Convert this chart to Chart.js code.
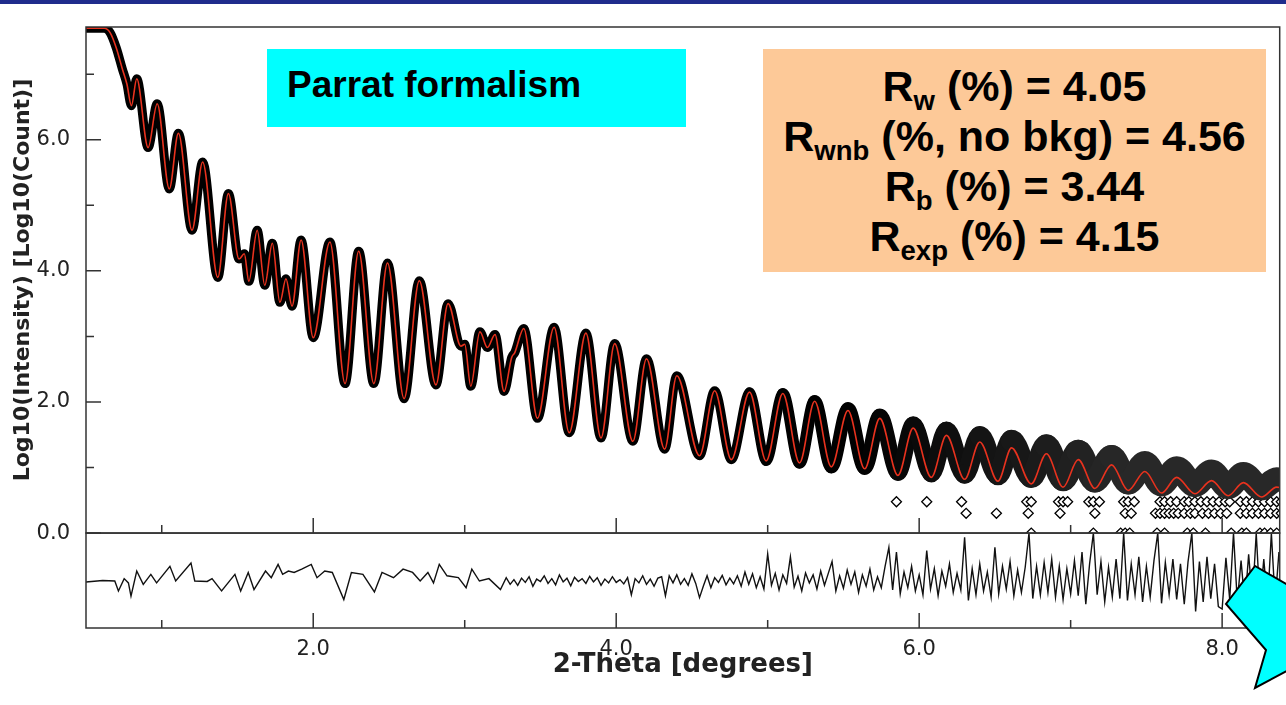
<!DOCTYPE html>
<html>
<head>
<meta charset="utf-8">
<script src="https://cdn.jsdelivr.net/npm/chart.js@4.4.1/dist/chart.umd.min.js"></script>
<style>
    body { margin: 0; background: #fff; overflow: hidden; }
    .page { position: relative; width: 1286px; height: 705px; overflow: hidden; }
    #chart { position: absolute; left: 0; top: 0; }
    .top-bar { position: absolute; left: 0; top: 0; width: 1286px; height: 4px; background: #202c8c; }
    .method-box {
        position: absolute; left: 267px; top: 49px; width: 419px; height: 78px;
        background: #00ffff; box-sizing: border-box; padding-left: 20px;
        font: bold 37px "Liberation Sans", Arial, sans-serif; line-height: 72px; color: #000;
    }
    .stats-box {
        position: absolute; left: 763px; top: 49px; width: 503px; height: 223px;
        background: #fdc998; box-sizing: border-box; padding-top: 12px;
        font: bold 43px "Liberation Sans", Arial, sans-serif; line-height: 50px;
        text-align: center; color: #000;
    }
    .stats-box sub { font-size: 0.64em; vertical-align: -0.32em; line-height: 0; }
    .arrow { position: absolute; left: 0; top: 0; }
</style>
</head>
<body>
<div class="page">
    <canvas id="chart" width="1286" height="705"></canvas>
    <div class="top-bar"></div>
    <div class="method-box">Parrat formalism</div>
    <div class="stats-box">
        <div>R<sub>w</sub> (%) = 4.05</div>
        <div>R<sub>wnb</sub> (%, no bkg) = 4.56</div>
        <div>R<sub>b</sub> (%) = 3.44</div>
        <div>R<sub>exp</sub> (%) = 4.15</div>
    </div>
    <svg class="arrow" width="1286" height="705">
        <polygon points="1255,566 1226,604 1266,650 1255,688 1335,645 1312,578 1300,592"
                 fill="#00ffff" stroke="#000" stroke-width="2" stroke-linejoin="miter"/>
    </svg>
</div>

<script>
// fitted curve, peaks and valleys (2-theta, log10 counts)
const twoTheta = [
    0.50, 0.62, 0.66, 0.70, 0.74, 0.77, 0.80, 0.835, 0.91, 0.97,
    1.05, 1.11, 1.20, 1.27, 1.37, 1.44, 1.51, 1.545, 1.575, 1.63,
    1.68, 1.73, 1.78, 1.82, 1.86, 1.92, 2.00, 2.11, 2.21, 2.30,
    2.40, 2.49, 2.60, 2.70, 2.81, 2.89, 2.975, 3.00, 3.04, 3.10,
    3.15, 3.20, 3.26, 3.31, 3.33, 3.39, 3.48, 3.59, 3.69, 3.80,
    3.90, 3.99, 4.11, 4.20, 4.32, 4.40, 4.55, 4.65, 4.76, 4.88,
    4.99, 5.10, 5.21, 5.31, 5.42, 5.53, 5.64, 5.74, 5.86, 5.96,
    6.08, 6.18, 6.30, 6.40, 6.52, 6.61, 6.74, 6.84, 6.95, 7.05,
    7.16, 7.27, 7.38, 7.49, 7.60, 7.70, 7.82, 7.93, 8.04, 8.14,
    8.26, 8.36, 8.42
];
const fitLog = [
    7.70, 7.70, 7.63, 7.40, 7.08, 6.85, 6.52, 6.93, 5.88, 6.55,
    5.25, 6.10, 4.62, 5.66, 3.90, 5.18, 4.18, 4.26, 3.84, 4.62,
    3.78, 4.42, 3.52, 3.88, 3.46, 4.47, 2.98, 4.44, 2.28, 4.30,
    2.28, 4.12, 2.05, 3.85, 2.26, 3.50, 2.85, 2.88, 2.24, 3.07,
    2.83, 3.03, 2.16, 2.68, 2.75, 3.12, 1.75, 3.14, 1.53, 3.05,
    1.45, 2.89, 1.40, 2.66, 1.28, 2.40, 1.18, 2.17, 1.12, 2.15,
    1.10, 2.13, 1.07, 2.01, 1.01, 1.87, 0.98, 1.75, 0.88, 1.60,
    0.85, 1.49, 0.82, 1.39, 0.79, 1.30, 0.75, 1.21, 0.70, 1.12,
    0.68, 1.04, 0.65, 0.94, 0.61, 0.85, 0.60, 0.80, 0.57, 0.77,
    0.55, 0.70, 0.68
];
// centre of the observed scatter, same 2-theta points; it sits above the fit at high angle
const obsLog = [
    7.70, 7.70, 7.63, 7.40, 7.08, 6.85, 6.52, 6.93, 5.88, 6.55,
    5.25, 6.10, 4.62, 5.66, 3.90, 5.18, 4.18, 4.26, 3.84, 4.62,
    3.78, 4.42, 3.52, 3.88, 3.46, 4.47, 2.98, 4.44, 2.28, 4.30,
    2.28, 4.12, 2.05, 3.85, 2.26, 3.50, 2.85, 2.88, 2.24, 3.07,
    2.83, 3.03, 2.16, 2.68, 2.75, 3.12, 1.75, 3.14, 1.53, 3.05,
    1.45, 2.89, 1.40, 2.66, 1.28, 2.40, 1.18, 2.17, 1.12, 2.15,
    1.10, 2.13, 1.07, 2.01, 1.01, 1.89, 1.00, 1.78, 0.92, 1.65,
    0.91, 1.56, 0.90, 1.48, 0.89, 1.41, 0.86, 1.33, 0.82, 1.24,
    0.80, 1.16, 0.77, 1.07, 0.74, 0.99, 0.73, 0.94, 0.70, 0.90,
    0.68, 0.82, 0.80
];

// isolated low-count observations at high angle (3, 2 and 1 counts)
const lowX3 = [5.85, 6.05, 6.28, 6.71, 6.74, 6.92, 6.95, 6.98, 7.12, 7.15, 7.19,
    7.35, 7.38, 7.42, 7.59, 7.62, 7.66, 7.70, 7.75, 7.78, 7.82, 7.86, 7.90, 7.94,
    7.98, 8.02, 8.05, 8.12, 8.16, 8.20, 8.24, 8.28, 8.32, 8.36, 8.39];
const lowX2 = [6.31, 6.51, 6.72, 6.93, 7.16, 7.36, 7.40, 7.56, 7.59, 7.62, 7.65,
    7.68, 7.71, 7.75, 7.79, 7.82, 7.87, 7.91, 7.95, 7.99, 8.03, 8.12, 8.16, 8.20,
    8.24, 8.28, 8.32, 8.36, 8.39];
const lowX1 = [6.74, 7.15, 7.33, 7.36, 7.39, 7.57, 7.62, 7.77, 7.81, 7.89, 8.06,
    8.13, 8.16, 8.25, 8.28, 8.32, 8.36];
const lowLevels = [0.477, 0.301, 0.0];

// residual (obs - calc), smooth part read point by point
const resFeatX = [0.50, 0.61, 0.69, 0.714, 0.752, 0.78, 0.797, 0.835, 0.878, 0.928,
    0.966, 1.054, 1.092, 1.193, 1.218, 1.30, 1.332, 1.395, 1.483, 1.521,
    1.571, 1.609, 1.685, 1.723, 1.768, 1.798, 1.836, 1.874, 1.924, 1.987,
    2.025, 2.076, 2.126, 2.202, 2.252, 2.328, 2.404, 2.454, 2.530, 2.593,
    2.656, 2.706, 2.757, 2.794, 2.832, 2.883, 2.958, 3.009, 3.047, 3.097,
    3.160, 3.236, 3.274];
const resFeatY = [-0.03, 0.0, -0.01, -0.22, 0.04, -0.05, -0.33, 0.20, -0.08, 0.13,
    -0.05, 0.30, -0.01, 0.37, -0.01, -0.02, 0.04, -0.22, 0.13, -0.22,
    0.17, -0.19, 0.20, 0.06, 0.34, 0.13, 0.20, 0.17, 0.24, 0.34,
    0.06, 0.20, 0.17, -0.40, 0.17, 0.13, -0.24, 0.17, 0.06, 0.24,
    0.17, -0.01, 0.17, -0.05, 0.34, 0.10, 0.06, -0.15, 0.24, -0.01,
    0.04, -0.19, 0.06];
// noisy part, constant step from 3.30
const resNoiseStart = 3.30;
const resNoiseStep = 0.025;
const resNoise = [
    -0.08, 0.02, -0.10, 0.05, -0.04, 0.08, -0.12, 0.03, -0.02, 0.10, -0.06, 0.04, -0.09, 0.12, -0.03, 0.05, -0.11, 0.07, -0.02, 0.04,
    -0.06, 0.09, -0.03, 0.06, -0.10, 0.03, -0.05, 0.08, -0.04, 0.02, -0.07, 0.06, -0.30, 0.04, -0.05, 0.10, -0.08, 0.03, -0.12, 0.05,
    0.08, -0.32, 0.10, -0.05, 0.12, -0.08, 0.04, -0.10, 0.14, -0.06, -0.36, -0.12, 0.10, -0.15, 0.06, -0.04, 0.11, -0.09, 0.05, -0.07,
    0.10, -0.12, 0.18, -0.08, 0.14, -0.15, 0.08, -0.18, 0.56, -0.10, 0.15, -0.20, 0.12, -0.06, 0.50, -0.14, 0.09, -0.22, 0.16, -0.05,
    0.12, -0.18, 0.20, -0.10, 0.15, 0.40, -0.22, 0.10, -0.16, 0.22, -0.08, 0.18, -0.25, 0.12, -0.12, 0.24, -0.20, 0.08, -0.15, 0.30,
    0.70, -0.20, 0.60, -0.28, 0.18, -0.15, 0.30, -0.22, 0.12, -0.30, 0.63, -0.18, 0.25, -0.32, 0.20, -0.12, 0.35, -0.25, 0.15, -0.20,
    0.91, -0.42, 0.25, -0.30, 0.35, -0.22, 0.18, -0.35, 0.70, -0.28, 0.30, -0.18, 0.40, -0.32, 0.22, -0.25, 0.28, 1.00, -0.38, 0.30,
    -0.30, 0.38, -0.25, 0.45, -0.35, 0.30, -0.40, 0.25, -0.28, 0.42, -0.32, 0.60, -0.50, 0.35, 1.00, -0.30, 0.40, -0.45, 0.28, -0.35,
    0.45, -0.38, 1.00, -0.42, 0.35, -0.30, 0.50, -0.45, 0.30, -0.35, 0.42, 1.00, -0.48, 0.38, -0.30, 0.45, -0.40, 0.35, -0.50, 0.40,
    1.00, -0.65, 0.40, -0.45, 0.50, -0.38, 0.35, -0.55, -0.60, 0.48, -0.40, 1.00, -0.45, 0.42, -0.50, 0.55, -0.42, 1.00, -0.48, 0.45,
    -0.50, 1.00, -0.45, 0.60, -0.40
];

const xMajorTicks = [2, 4, 6, 8];
const xMinorTicks = [1, 3, 5, 7];
const yMajorTicks = [0, 2, 4, 6];
const yMinorTicks = [1, 3, 5, 7];

const fitPoints = twoTheta.map((x, i) => ({x: x, y: fitLog[i]}));
const obsPoints = twoTheta.map((x, i) => ({x: x, y: obsLog[i]}));
let lowPoints = [];
[lowX3, lowX2, lowX1].forEach((xs, k) => {
    xs.forEach(x => lowPoints.push({x: x, y: lowLevels[k]}));
});
const residualPoints = resFeatX.map((x, i) => ({x: x, y: resFeatY[i]}))
    .concat(resNoise.map((v, i) => ({x: resNoiseStart + i * resNoiseStep, y: v})));

// observed scatter gets wider and greyer at high angle
function bandWidth(x) {
    return x < 4.8 ? 9 : Math.min(9 + (x - 4.8) * 7, 24);
}
function bandColor(x) {
    const g = Math.round(Math.min(Math.max((x - 5.5) * 22, 0), 40));
    return 'rgb(' + g + ',' + g + ',' + g + ')';
}

// keep each dataset inside its own panel
const panelClip = {
    id: 'panelClip',
    beforeDatasetDraw(chart, args) {
        const s = args.meta.yScale;
        const a = chart.chartArea;
        chart.ctx.save();
        chart.ctx.beginPath();
        chart.ctx.rect(a.left, s.top, a.right - a.left, s.bottom - s.top);
        chart.ctx.clip();
    },
    afterDatasetDraw(chart) {
        chart.ctx.restore();
    }
};

// boxes round both panels and inward tick marks
const framePlugin = {
    id: 'frame',
    afterDatasetsDraw(chart) {
        const ctx = chart.ctx;
        const a = chart.chartArea;
        const x = chart.scales.x, y = chart.scales.y, yr = chart.scales.yRes;
        ctx.save();
        ctx.strokeStyle = '#333';
        ctx.lineWidth = 1.5;
        ctx.strokeRect(a.left, y.top, a.right - a.left, y.bottom - y.top);
        ctx.strokeRect(a.left, yr.top, a.right - a.left, yr.bottom - yr.top);
        ctx.beginPath();
        const xTick = (vals, len) => vals.forEach(v => {
            const px = x.getPixelForValue(v);
            ctx.moveTo(px, y.bottom); ctx.lineTo(px, y.bottom - len);
            ctx.moveTo(px, yr.bottom); ctx.lineTo(px, yr.bottom - len);
        });
        const yTick = (vals, len) => vals.forEach(v => {
            const py = y.getPixelForValue(v);
            ctx.moveTo(a.left, py); ctx.lineTo(a.left + len, py);
        });
        xTick(xMajorTicks, 15);
        xTick(xMinorTicks, 8);
        yTick(yMajorTicks, 15);
        yTick(yMinorTicks, 8);
        ctx.stroke();
        ctx.restore();
    }
};

const tickFont = {family: 'DejaVu Sans', size: 21};

const chart = new Chart(document.getElementById('chart'), {
    type: 'line',
    data: {
        datasets: [
            {
                label: 'Parratt fit',
                data: fitPoints,
                yAxisID: 'y',
                borderColor: '#e8321e',
                borderWidth: 1.6,
                pointRadius: 0,
                cubicInterpolationMode: 'monotone'
            },
            {
                label: 'Observed',
                data: obsPoints,
                yAxisID: 'y',
                borderColor: '#000',
                borderWidth: 9,
                borderCapStyle: 'round',
                borderJoinStyle: 'round',
                pointRadius: 0,
                cubicInterpolationMode: 'monotone',
                segment: {
                    borderWidth: ctx => bandWidth(ctx.p0.parsed.x),
                    borderColor: ctx => bandColor(ctx.p0.parsed.x)
                }
            },
            {
                label: 'Low counts',
                data: lowPoints,
                yAxisID: 'y',
                showLine: false,
                pointStyle: 'rectRot',
                pointRadius: 5,
                pointBackgroundColor: '#fff',
                pointBorderColor: '#000',
                pointBorderWidth: 1.3
            },
            {
                label: 'Residual',
                data: residualPoints,
                yAxisID: 'yRes',
                borderColor: '#111',
                borderWidth: 1.4,
                pointRadius: 0,
                tension: 0
            }
        ]
    },
    options: {
        responsive: false,
        animation: false,
        layout: { padding: {left: 0, top: 27, right: 3, bottom: 0} },
        plugins: {
            legend: { display: false },
            tooltip: { enabled: false }
        },
        scales: {
            x: {
                type: 'linear',
                min: 0.5,
                max: 8.38,
                grid: { display: false },
                border: { display: false },
                afterBuildTicks: axis => { axis.ticks = xMajorTicks.map(v => ({value: v})); },
                afterFit: axis => { axis.height = 77; },
                ticks: {
                    callback: v => v.toFixed(1),
                    font: tickFont,
                    color: '#222',
                    padding: 1,
                    maxRotation: 0,
                    autoSkip: false
                },
                title: {
                    display: true,
                    text: '2-Theta [degrees]',
                    font: {family: 'DejaVu Sans', size: 26, weight: 'bold'},
                    color: '#222',
                    padding: {top: 0, bottom: 24}
                }
            },
            yRes: {
                type: 'linear',
                position: 'left',
                stack: 'panels',
                stackWeight: 1,
                min: -1,
                max: 1,
                grid: { display: false },
                border: { display: false },
                ticks: { display: false },
                afterFit: axis => { axis.width = 86; }
            },
            y: {
                type: 'linear',
                position: 'left',
                stack: 'panels',
                stackWeight: 5.33,
                min: 0,
                max: 7.72,
                grid: { display: false },
                border: { display: false },
                afterBuildTicks: axis => { axis.ticks = yMajorTicks.map(v => ({value: v})); },
                afterFit: axis => { axis.width = 86; },
                ticks: {
                    callback: v => v.toFixed(1),
                    font: tickFont,
                    color: '#222',
                    padding: 8
                },
                title: {
                    display: true,
                    text: 'Log10(Intensity) [Log10(Count)]',
                    font: {family: 'DejaVu Sans', size: 22, weight: 'bold'},
                    color: '#222',
                    padding: {top: 10, bottom: 0}
                }
            }
        }
    },
    plugins: [panelClip, framePlugin]
});
</script>
</body>
</html>
